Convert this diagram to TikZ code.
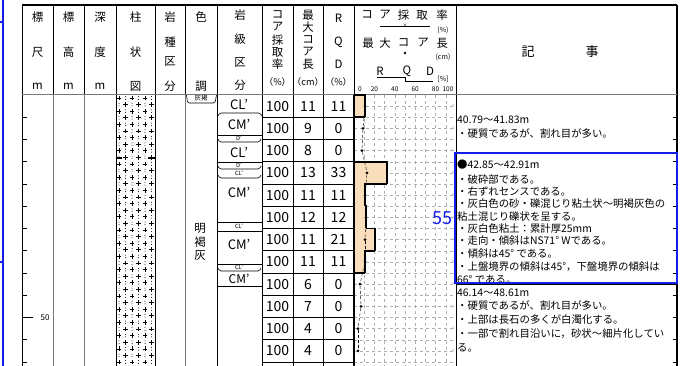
\documentclass[tikz,border=0pt]{standalone}
\usepackage{fontspec}
\setmainfont{Noto Sans CJK JP}
\usetikzlibrary{positioning, calc}
\definecolor{coreTan}{RGB}{250,221,186}
\definecolor{markBlue}{RGB}{20,30,235}
\definecolor{ruleGray}{RGB}{120,120,120}
\definecolor{gridGray}{RGB}{175,175,175}

\tikzset{
  hdr/.style={font=\fontsize{11.5}{12}\selectfont, inner sep=0pt},
  unit/.style={font=\fontsize{9.2}{10}\selectfont, inner sep=0pt},
  num/.style={font=\fontsize{14}{14}\selectfont, inner sep=0pt},
  note/.style={font=\fontsize{10.4}{12}\selectfont, anchor=west, inner sep=0pt},
  cls/.style={font=\fontsize{13}{13}\selectfont, inner sep=0pt},
  thin cls/.style={font=\fontsize{5.8}{5.8}\selectfont, inner sep=0pt},
  small/.style={font=\fontsize{7}{7}\selectfont, inner sep=0pt},
  corept/.style={circle, fill=black, inner sep=0pt, minimum size=3.2pt},
  layer/.style={line width=0.6pt, rounded corners=1.5pt},
}

\begin{document}
\begin{tikzpicture}[x=1pt, y=-1pt]
\useasboundingbox (0,0) rectangle (686,366);
% Margin marks
\draw[markBlue, line width=2pt] (3,0) -- (3,366);
\draw[markBlue, line width=1.5pt] (0,22) -- (3,22);
\draw[markBlue, line width=1.5pt] (0,262) -- (3,262);

% Chart grid
\foreach \k in {1,...,9} \draw[gridGray, dashed, line width=0.4pt] (354+10.2*\k,95) -- (354+10.2*\k,366);
\foreach \k in {1,...,24} \draw[gridGray, dashed, line width=0.4pt] (354,95+11.125*\k) -- (456,95+11.125*\k);

% Frame
\draw[line width=1.5pt] (22,5) -- (677,5);
\draw[line width=1.2pt] (677,5) -- (677,366);
\draw[line width=1pt] (22,5) -- (22,366);
\foreach \x in {53,84,116,155,185,217,262,293,323,354,456} \draw[line width=0.8pt] (\x,5) -- (\x,95);
\draw[ruleGray, line width=1pt] (22,94.5) -- (677,94.5);
\foreach \x in {53,84,185} \draw[ruleGray, line width=0.6pt] (\x,95) -- (\x,366);
\foreach \x in {116,155,217,262,293,323,456} \draw[line width=0.8pt] (\x,95) -- (\x,366);

% Header
\foreach [count=\n] \t/\x/\y in {標/37.5/17, 尺/37.5/52, m/37.5/86,
    標/68.5/17, 高/68.5/52, m/68.5/86,
    深/100/17, 度/100/52, m/100/86,
    柱/135.5/17, 状/135.5/52, 図/135.5/86,
    岩/170/17, 種/170/42, 区/170/61, 分/170/86,
    色/201/17, 調/201/86,
    岩/240/15, 級/240/39, 区/240/62, 分/240/85,
    コ/277.5/15, ア/277.5/27, 採/277.5/40, 取/277.5/52, 率/277.5/64,
    最/308/15, 大/308/27, コ/308/40, ア/308/52, 長/308/64,
    R/338.5/18, Q/338.5/42, D/338.5/64}
  \node[hdr] (hd\n) at (\x,\y) {\t};
\node[unit] (unita) at (277.5,82) {（\%）};
\node[unit] (unitb) at (308,82) {（cm）};
\node[unit] (unitc) at (338.5,82) {（\%）};
\foreach [count=\n] \t/\x/\y in {コ/367/15, ア/385/15, 採/403.5/15, 取/422/15, 率/442/15,
    最/368/43, 大/385/43, コ/403.5/43, ア/423/43, 長/442/43, R/380/71, Q/407/71, D/430/71}
  \node[hdr] (ch\n) at (\x,\y) {\t};
\node[small] (pcta) at (443,30) {(\%)};
\node[small] (cmu) at (443,57) {(cm)};
\node[small] (pctb) at (443,79) {[\%]};
\draw[line width=0.5pt] (380,26) -- (430,26);
\node[font=\fontsize{5}{5}\selectfont, inner sep=0pt] (keyx) at (405,26) {×};
\node[corept, minimum size=2.6pt] (keydot) at (405,53) {};
\draw[line width=1pt] (377,78) -- (405,78) -- (405,81.5) -- (433,81.5);
\foreach \v/\x in {0/360,20/374.4,40/394.8,60/415.2,80/435.6,100/448}
  \node[font=\fontsize{6.5}{6.5}\selectfont, inner sep=0pt] (sc\v) at (\x,89) {\v};
\node[hdr, font=\fontsize{13}{13}\selectfont] (kijia) at (528,52) {記};
\node[hdr, font=\fontsize{13}{13}\selectfont] (kijib) at (592,52) {事};

% Depth scale
\foreach \i in {1,...,12} {
  \draw[line width=0.8pt] (22,95+22.25*\i) -- ++(5,0);
  \draw[line width=0.8pt] (677,95+22.25*\i) -- ++(-4,0);
}
\draw[line width=0.8pt] (22,317.5) -- (33,317.5);
\node[font=\fontsize{8}{8}\selectfont, inner sep=0pt] (d50) at (45,317.5) {50};

% Columnar section
\foreach \r in {0,...,40} {
  \pgfmathsetmacro\py{98+6.6*\r}
  \pgfmathsetmacro\sh{6.5*mod(\r,2)}
  \foreach \cx in {119,132,145} {
    \draw[line width=0.6pt] (\cx+\sh-2.4,\py) -- ++(4.8,0) (\cx+\sh,\py-2.4) -- ++(0,4.8);
    \fill (\cx+6.5-\sh,\py-1.3) circle (0.5) (\cx+6.5-\sh,\py+1.3) circle (0.5);
  }
}
\draw[line width=1.5pt] (116,158) -- (122,158) (148,158) -- (155,158);

% Colour
\node[thin cls, font=\fontsize{6.5}{6.5}\selectfont] (col0) at (201,98.5) {灰褐};
\draw[layer] (186.5,95) -- (187.5,103) -- (215,103) -- (216.5,95);
\node[hdr] (cola) at (200,228) {明};
\node[hdr] (colb) at (200,242) {褐};
\node[hdr] (colc) at (200,255) {灰};

% Rock class
\node[cls] (rk1) at (239,105) {CL'};
\draw[layer] (218,116) -- (219.5,113) -- (260,113) -- (262,116);
\node[cls] (rk2) at (239,125) {CM'};
\draw[layer] (217,135) -- (262,135);
\node[thin cls] (rk3) at (239,138) {D'};
\draw[layer] (218,139) -- (219.5,142) -- (259.5,142) -- (261,139);
\node[cls] (rk4) at (239,153) {CL'};
\draw[layer] (217,162) -- (262,162);
\node[thin cls] (rk5) at (239,165) {D'};
\draw[layer] (218,166) -- (219.5,169) -- (259.5,169) -- (261,166);
\node[thin cls] (rk6) at (239,173) {CL'};
\draw[layer] (218,175) -- (219.5,178) -- (259.5,178) -- (261,175);
\node[cls] (rk7) at (239,193) {CM'};
\draw[layer] (217,222) -- (262,222);
\node[thin cls] (rk8) at (239,226) {CL'};
\draw[layer] (217,231) -- (262,231);
\node[cls] (rk9) at (239,245) {CM'};
\draw[layer] (217,264) -- (262,264);
\node[thin cls] (rk10) at (239,267) {CL'};
\draw[layer] (218,268) -- (219.5,271) -- (259.5,271) -- (261,268);
\node[cls, font=\fontsize{12}{12}\selectfont] (rk11) at (239,279) {CM'};
\draw[layer] (217,286) -- (262,286);

% Core data rows
\foreach \i/\mx/\rqd/\prev in {1/11/11/0, 2/9/0/11, 3/8/0/0, 4/13/33/0, 5/11/11/33, 6/12/12/11,
    7/11/21/12, 8/11/11/21, 9/6/0/11, 10/7/0/0, 11/4/0/0, 12/4/0/0} {
  \pgfmathsetmacro\ytop{95+22.25*(\i-1)}
  \pgfmathsetmacro\ybot{\ytop+22.25}
  \pgfmathsetmacro\ymid{\ytop+11.125}
  \fill[coreTan] (354,\ytop) rectangle (354+\rqd,\ybot);
  \draw[line width=1.6pt] (354+\prev,\ytop) -- (354+\rqd,\ytop) -- (354+\rqd,\ybot);
  \draw[line width=0.8pt] (262,\ybot) -- (354,\ybot);
  \node[num] (rec\i) at (277.5,\ymid) {100};
  \node[num] (mcl\i) at (308,\ymid) {\mx};
  \node[num] (rqd\i) at (338.5,\ymid) {\rqd};
  \node[corept] (dot\i) at (354+\mx,\ymid) {};
  \node[font=\fontsize{5}{5}\selectfont, text=gridGray, inner sep=0pt] (full\i) at (453,\ymid) {×};
}
\draw[line width=1.6pt] (354,95) -- (354,366);
\foreach \i [evaluate=\i as \j using int(\i+1)] in {1,...,11}
  \draw[densely dashed, line width=0.4pt] (dot\i) -- (dot\j);

% Notes
\node[note] (n1) at (457,120) {40.79～41.83m};
\node[note] (n2) at (457,134) {・硬質であるが、割れ目が多い。};
\node[note] (n3) at (457,165) {●42.85～42.91m};
\node[note] (n4) at (457,180) {・破砕部である。};
\node[note] (n5) at (457,192) {・右ずれセンスである。};
\node[note] (n6) at (457,204) {・灰白色の砂・礫混じり粘土状～明褐灰色の};
\node[note] (n7) at (457,217) {粘土混じり礫状を呈する。};
\node[note] (n8) at (457,229) {・灰白色粘土：累計厚25mm};
\node[note] (n9) at (457,241) {・走向・傾斜はNS71° Wである。};
\node[note] (n10) at (457,254) {・傾斜は45° である。};
\node[note] (n11) at (457,267) {・上盤境界の傾斜は45°，下盤境界の傾斜は};
\node[note] (n12) at (457,280) {66° である。};
\node[note] (n13) at (457,293) {46.14～48.61m};
\node[note] (n14) at (457,306) {・硬質であるが、割れ目が多い。};
\node[note] (n15) at (457,320) {・上部は長石の多くが白濁化する。};
\node[note] (n16) at (457,334) {・一部で割れ目沿いに，砂状～細片化してい};
\node[note] (n17) at (457,348) {る。};
\draw[line width=0.8pt] (456,284) -- (677,284);

% Highlight
\draw[markBlue, line width=2pt] (455,153) rectangle (677,283);
\node[font=\fontsize{18}{18}\selectfont, text=markBlue, inner sep=0pt] (pg) at (442,218) {55};
\end{tikzpicture}
\end{document}
